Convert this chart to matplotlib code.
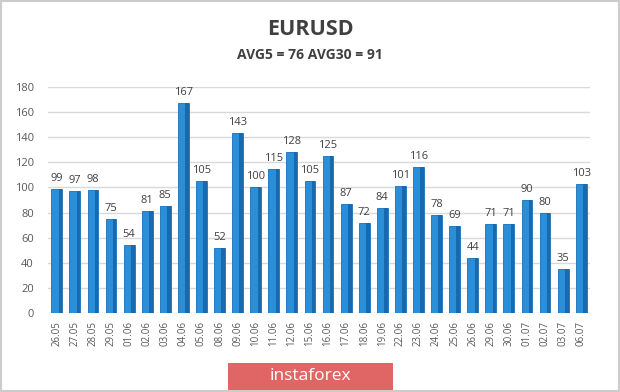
import matplotlib.pyplot as plt
from matplotlib.patches import Rectangle

dates = ["26.05", "27.05", "28.05", "29.05", "01.06", "02.06", "03.06", "04.06",
         "05.06", "08.06", "09.06", "10.06", "11.06", "12.06", "15.06", "16.06",
         "17.06", "18.06", "19.06", "22.06", "23.06", "24.06", "25.06", "26.06",
         "29.06", "30.06", "01.07", "02.07", "03.07", "06.07"]
values = [99, 97, 98, 75, 54, 81, 85, 167, 105, 52, 143, 100, 115, 128, 105, 125,
          87, 72, 84, 101, 116, 78, 69, 44, 71, 71, 90, 80, 35, 103]
yticks = [0, 20, 40, 60, 80, 100, 120, 140, 160, 180]

plt.rcParams['font.family'] = ['Open Sans', 'DejaVu Sans']

fig = plt.figure(figsize=(6.2, 3.92), dpi=100)
fig.patches.append(Rectangle((0.002, 0.002), 0.996, 0.996, transform=fig.transFigure,
                             fill=False, edgecolor='#cccccc', linewidth=1.5))

ax = fig.add_axes([0.077, 0.2015, 0.875, 0.5765])
x = list(range(len(values)))
# main bar + darker side for a slight 3d look
ax.bar(x, values, width=0.6, color='#2a8fd8', edgecolor='#1a6fb5', linewidth=0.6, zorder=3)
ax.bar([i + 0.2 for i in x], values, width=0.2, color='#1769b0', zorder=3)
for i, v in zip(x, values):
    ax.text(i, v + 4, str(v), ha='center', va='bottom', fontsize=8, color='#404040')

ax.set_xlim(-0.5, len(values) - 0.5)
ax.set_ylim(0, 180)
ax.set_yticks(yticks)
ax.set_xticks(x)
ax.set_xticklabels(dates, rotation=90, fontsize=7, color='#595959')
ax.tick_params(axis='y', labelsize=8, colors='#595959', length=0, pad=10)
ax.tick_params(axis='x', length=0, pad=6)
ax.grid(axis='y', color='#d9d9d9', linewidth=1, zorder=0)
for s in ax.spines.values():
    s.set_visible(False)

fig.text(0.5, 0.925, "EURUSD", ha='center', va='center', fontsize=15.5,
         fontweight='bold', color='#404040')
fig.text(0.5, 0.86, "AVG5 = 76 AVG30 = 91", ha='center', va='center', fontsize=10,
         fontweight='bold', color='#404040')

# instaforex badge
fig.patches.append(Rectangle((228 / 620, 2 / 392), 165 / 620, 27 / 392,
                             transform=fig.transFigure, facecolor='#e06666',
                             edgecolor='none'))
fig.text(0.5, 16 / 392, "instaforex", ha='center', va='center', fontsize=12.5,
         color='white')

fig.savefig("out.png", dpi=100)
